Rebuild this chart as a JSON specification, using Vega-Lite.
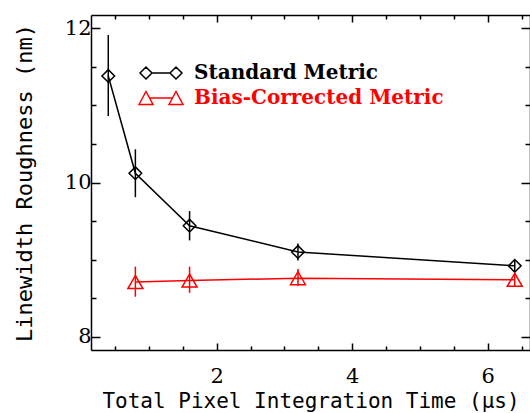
{
  "$schema": "https://vega.github.io/schema/vega-lite/v6.json",
  "width": 439,
  "height": 335,
  "autosize": "none",
  "padding": {"left": 91, "top": 15, "right": 0, "bottom": 63},
  "background": "white",
  "config": {
    "view": {"stroke": null},
    "axis": {
      "labelFont": "DejaVu Serif",
      "titleFont": "DejaVu Sans Mono",
      "labelFontSize": 21,
      "titleFontSize": 21,
      "labelColor": "black",
      "titleColor": "black",
      "titleFontWeight": "normal",
      "domainColor": "black",
      "tickColor": "black",
      "domainWidth": 1.5,
      "tickWidth": 1.5,
      "grid": false
    },
    "legend": {
      "orient": "none", "title": null, "padding": 0,
      "symbolSize": 400, "symbolStrokeWidth": 1.5, "symbolFillColor": "transparent",
      "labelOffset": 22, "labelLimit": 400,
      "labelFont": "DejaVu Serif", "labelFontSize": 20, "labelFontWeight": "bold"
    }
  },
  "data": {
    "values": [
      {"series": "Standard Metric", "x": 0.4, "y": 11.38, "lo": 10.86, "hi": 11.91},
      {"series": "Standard Metric", "x": 0.8, "y": 10.12, "lo": 9.81, "hi": 10.43},
      {"series": "Standard Metric", "x": 1.6, "y": 9.44, "lo": 9.25, "hi": 9.63},
      {"series": "Standard Metric", "x": 3.2, "y": 9.10, "lo": 8.99, "hi": 9.21},
      {"series": "Standard Metric", "x": 6.4, "y": 8.92, "lo": 8.85, "hi": 8.99},
      {"series": "Bias-Corrected Metric", "x": 0.8, "y": 8.71, "lo": 8.52, "hi": 8.91},
      {"series": "Bias-Corrected Metric", "x": 1.6, "y": 8.73, "lo": 8.57, "hi": 8.91},
      {"series": "Bias-Corrected Metric", "x": 3.2, "y": 8.76, "lo": 8.66, "hi": 8.88},
      {"series": "Bias-Corrected Metric", "x": 6.4, "y": 8.74, "lo": 8.65, "hi": 8.83}
    ]
  },
  "layer": [
    {
      "transform": [{"filter": "datum.series === 'Bias-Corrected Metric'"}],
      "mark": {"type": "rule", "color": "#ff0000", "strokeWidth": 1.5},
      "encoding": {
        "x": {"field": "x", "type": "quantitative", "scale": {"domain": [0.145, 6.625], "nice": false, "zero": false},
          "axis": {"orient": "bottom", "values": [2, 4, 6], "tickSize": -7, "labelPadding": 22, "title": "Total Pixel Integration Time (μs)", "titlePadding": 4}},
        "y": {"field": "lo", "type": "quantitative", "scale": {"domain": [7.83, 12.17], "nice": false, "zero": false},
          "axis": {"orient": "left", "values": [8, 10, 12], "tickSize": -9, "labelPadding": 9, "title": "Linewidth Roughness (nm)", "titleFontSize": 22, "titlePadding": 28}},
        "y2": {"field": "hi"}
      }
    },
    {
      "transform": [{"filter": "datum.series === 'Standard Metric'"}],
      "mark": {"type": "rule", "color": "black", "strokeWidth": 1.5},
      "encoding": {
        "x": {"field": "x", "type": "quantitative", "scale": {"domain": [0.145, 6.625], "nice": false, "zero": false},
          "axis": {"orient": "bottom", "values": [0.5, 1, 1.5, 2.5, 3, 3.5, 4.5, 5, 5.5, 6.5], "tickSize": -4, "labels": false, "domain": false, "title": null}},
        "y": {"field": "lo", "type": "quantitative", "scale": {"domain": [7.83, 12.17], "nice": false, "zero": false},
          "axis": {"orient": "left", "values": [8.5, 9, 9.5, 10.5, 11, 11.5], "tickSize": -5, "labels": false, "domain": false, "title": null}},
        "y2": {"field": "hi"}
      }
    },
    {
      "transform": [{"filter": "datum.series === 'Bias-Corrected Metric'"}],
      "mark": {"type": "line", "color": "#ff0000", "strokeWidth": 1.5},
      "encoding": {
        "x": {"field": "x", "type": "quantitative", "scale": {"domain": [0.145, 6.625], "nice": false, "zero": false},
          "axis": {"orient": "top", "values": [2, 4, 6], "tickSize": -7, "labels": false, "title": null}},
        "y": {"field": "y", "type": "quantitative", "scale": {"domain": [7.83, 12.17], "nice": false, "zero": false},
          "axis": {"orient": "right", "values": [8, 10, 12], "tickSize": -9, "labels": false, "title": null}}
      }
    },
    {
      "transform": [{"filter": "datum.series === 'Standard Metric'"}],
      "mark": {"type": "line", "color": "black", "strokeWidth": 1.5},
      "encoding": {
        "x": {"field": "x", "type": "quantitative", "scale": {"domain": [0.145, 6.625], "nice": false, "zero": false},
          "axis": {"orient": "top", "values": [0.5, 1, 1.5, 2.5, 3, 3.5, 4.5, 5, 5.5, 6.5], "tickSize": -4, "labels": false, "domain": false, "title": null}},
        "y": {"field": "y", "type": "quantitative", "scale": {"domain": [7.83, 12.17], "nice": false, "zero": false},
          "axis": {"orient": "right", "values": [8.5, 9, 9.5, 10.5, 11, 11.5], "tickSize": -5, "labels": false, "domain": false, "title": null}}
      }
    },
    {
      "transform": [{"filter": "datum.series === 'Standard Metric'"}],
      "mark": {"type": "point", "shape": "diamond", "size": 160, "filled": false, "strokeWidth": 1.5, "opacity": 1},
      "encoding": {
        "x": {"field": "x", "type": "quantitative", "scale": {"domain": [0.145, 6.625], "nice": false, "zero": false}, "axis": null},
        "y": {"field": "y", "type": "quantitative", "scale": {"domain": [7.83, 12.17], "nice": false, "zero": false}, "axis": null},
        "color": {"field": "series", "type": "nominal",
          "scale": {"domain": ["Standard Metric"], "range": ["black"]},
          "legend": {"legendX": 59, "legendY": 47, "labelColor": "black",
            "symbolType": "M-2.1,0L-1.5,-0.6L-0.9,0L-1.5,0.6ZM-0.9,0L0.9,0M0.9,0L1.5,-0.6L2.1,0L1.5,0.6Z"}}
      }
    },
    {
      "transform": [{"filter": "datum.series === 'Bias-Corrected Metric'"}],
      "mark": {"type": "point", "shape": "triangle-up", "size": 225, "filled": false, "strokeWidth": 1.5, "opacity": 1},
      "encoding": {
        "x": {"field": "x", "type": "quantitative", "scale": {"domain": [0.145, 6.625], "nice": false, "zero": false}, "axis": null},
        "y": {"field": "y", "type": "quantitative", "scale": {"domain": [7.83, 12.17], "nice": false, "zero": false}, "axis": null},
        "color": {"field": "series", "type": "nominal",
          "scale": {"domain": ["Bias-Corrected Metric"], "range": ["#ff0000"]},
          "legend": {"legendX": 59, "legendY": 72, "labelColor": "#ff0000",
            "symbolType": "M-2.2,0.65L-1.5,-0.65L-0.8,0.65ZM-1.15,0L1.15,0M0.8,0.65L1.5,-0.65L2.2,0.65Z"}}
      }
    }
  ],
  "resolve": {"scale": {"color": "independent"}, "axis": {"x": "independent", "y": "independent"}}
}
